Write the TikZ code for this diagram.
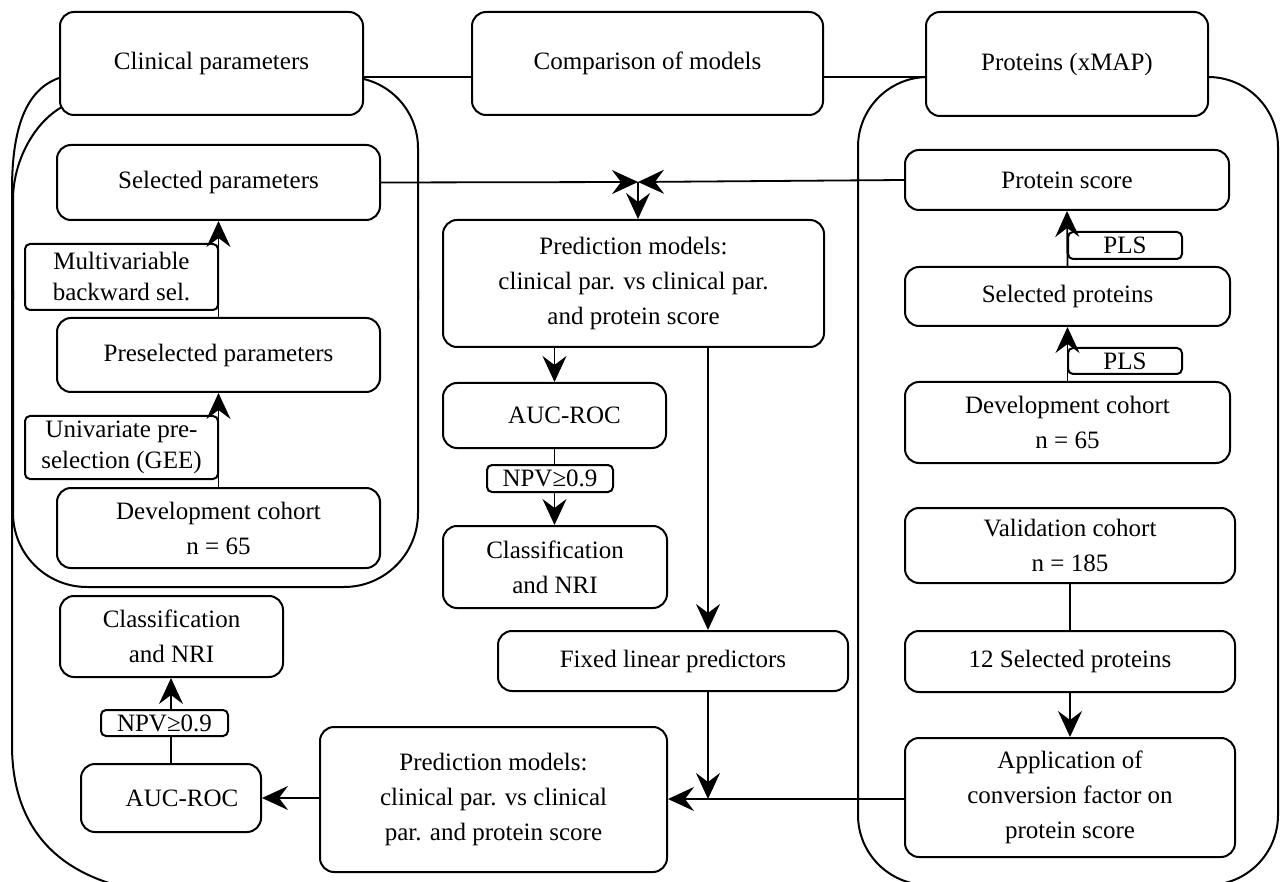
\documentclass[tikz,border=0pt]{standalone}
\usepackage{fontspec}
\setmainfont{Liberation Serif}
\usetikzlibrary{arrows.meta}
\begin{document}
\begin{tikzpicture}[x=1pt,y=-1pt,
  box/.style={draw, line width=2pt, rounded corners=14pt, fill=white, align=center, inner sep=0pt, font=\fontsize{25}{35}\selectfont},
  lab/.style={draw, line width=2pt, rounded corners=5pt, fill=white, align=center, inner sep=0pt, font=\fontsize{25}{31}\selectfont},
  con/.style={line width=1.8pt},
  arr/.style={con, -{Stealth[length=26pt,width=24pt,inset=9pt]}},
  grp/.style={line width=2pt}]
\useasboundingbox (0,0) rectangle (1280,882);
\begin{scope}
\clip (0,0) rectangle (1280,882);
% outer comparison outline (left)
\draw[grp] (59,78) .. controls (25,90) and (12,130) .. (12,190) -- (12,745) .. controls (12,830) and (60,880) .. (150,892);
% clinical group
\draw[grp] (62,107) .. controls (35,122) and (13,160) .. (13,200) -- (13,300);
\draw[grp, rounded corners=74pt] (13,290) -- (13,587) -- (418,587) -- (418,290);
\draw[grp, rounded corners=71pt] (418,300) -- (418,77) -- (330,77);
% protein group
\draw[grp, rounded corners=70pt] (1000,77) -- (858,77) -- (858,885) -- (1278,885) -- (1278,77) -- (1150,77);
\end{scope}
\coordinate (t) at (0,77);
\coordinate (J) at (638,182);
\coordinate (B) at (708,799);
% top row
\node[box, minimum width=303pt, minimum height=103pt] (clin) at (211.5,63.5) {Clinical parameters};
\node[box, minimum width=351pt, minimum height=103pt] (comp) at (647.5,63.5) {Comparison of models};
\node[box, minimum width=282pt, minimum height=104pt] (prot) at (1067,64) {Proteins (xMAP)};
% left column
\node[box, minimum width=323pt, minimum height=75pt] (selpar) at (218.5,182.5) {Selected parameters};
\node[lab, minimum width=193pt, minimum height=66pt] (multi) at (121.5,277) {Multivariable\\backward sel.};
\node[box, minimum width=323pt, minimum height=74pt] (presel) at (218.5,355) {Preselected parameters};
\node[lab, minimum width=193pt, minimum height=63pt] (univ) at (121.5,447.5) {Univariate pre-\\selection (GEE)};
\node[box, minimum width=323pt, minimum height=80pt] (dev1) at (218.5,528) {Development cohort\\n = 65};
\node[box, minimum width=223pt, minimum height=81pt] (cls1) at (171.5,636.5) {Classification\\and NRI};
\node[lab, minimum width=127pt, minimum height=26pt] (npv1) at (164.5,723) {NPV≥0.9};
\node[box, minimum width=180pt, minimum height=68pt] (auc1) at (171,798) {\hspace*{22pt}AUC-ROC};
\node[box, minimum width=347pt, minimum height=145pt] (pred2) at (493.5,799.5) {Prediction models:\\clinical par. vs clinical\\par. and protein score};
% middle column
\node[box, minimum width=381pt, minimum height=127pt] (pred1) at (633.5,283.5) {Prediction models:\\clinical par. vs clinical par.\\and protein score};
\node[box, minimum width=223pt, minimum height=65pt] (auc2) at (554.5,415.5) {\hspace*{20pt}AUC-ROC};
\node[lab, minimum width=126pt, minimum height=27pt] (npv2) at (550,478.5) {NPV≥0.9};
\node[box, minimum width=224pt, minimum height=82pt] (cls2) at (555,567) {Classification\\and NRI};
\node[box, minimum width=350pt, minimum height=60pt] (fixed) at (673,661) {Fixed linear predictors};
% right column
\node[box, minimum width=324pt, minimum height=60pt] (pscore) at (1067,180) {Protein score};
\node[lab, minimum width=114pt, minimum height=27pt] (pls1) at (1125,245.5) {PLS};
\node[box, minimum width=325pt, minimum height=59pt] (selprot) at (1067.5,296.5) {Selected proteins};
\node[lab, minimum width=114pt, minimum height=26pt] (pls2) at (1125,361) {PLS};
\node[box, minimum width=325pt, minimum height=81pt] (dev2) at (1067.5,422.5) {Development cohort\\n = 65};
\node[box, minimum width=330pt, minimum height=75pt] (val) at (1070,545.5) {Validation cohort\\n = 185};
\node[box, minimum width=330pt, minimum height=61pt] (sel12) at (1070,661.5) {12 Selected proteins};
\node[box, minimum width=330pt, minimum height=119pt] (app) at (1070,797.5) {Application of\\conversion factor on\\protein score};
% connectors
\draw[con] (clin.east |- t) -- (comp.west |- t);
\draw[con] (comp.east |- t) -- (prot.west |- t);
\draw[arr] (selpar.east) -- (J);
\draw[arr] (pscore.west) -- (J);
\draw[arr] (J) -- (J |- pred1.north);
\draw[arr] (dev1.north) -- (presel.south);
\draw[arr] (presel.north) -- (selpar.south);
\draw[arr] (dev2.north) -- (selprot.south);
\draw[arr] (selprot.north) -- (pscore.south);
\draw[arr] (auc2.north |- pred1.south) -- (auc2.north);
\draw[con] (auc2.south) -- (auc2.south |- npv2.north);
\draw[arr] (auc2.south |- npv2.south) -- (auc2.south |- cls2.north);
\draw[arr] (B |- pred1.south) -- (B |- fixed.north);
\draw[arr] (B |- fixed.south) -- (B);
\draw[arr] (app.west |- B) -- (pred2.east |- B);
\draw[arr] (pred2.west |- auc1.east) -- (auc1.east);
\draw[con] (auc1.north) -- (auc1.north |- npv1.south);
\draw[arr] (auc1.north |- npv1.north) -- (auc1.north |- cls1.south);
\draw[con] (val.south) -- (sel12.north);
\draw[arr] (sel12.south) -- (app.north);
\end{tikzpicture}
\end{document}
